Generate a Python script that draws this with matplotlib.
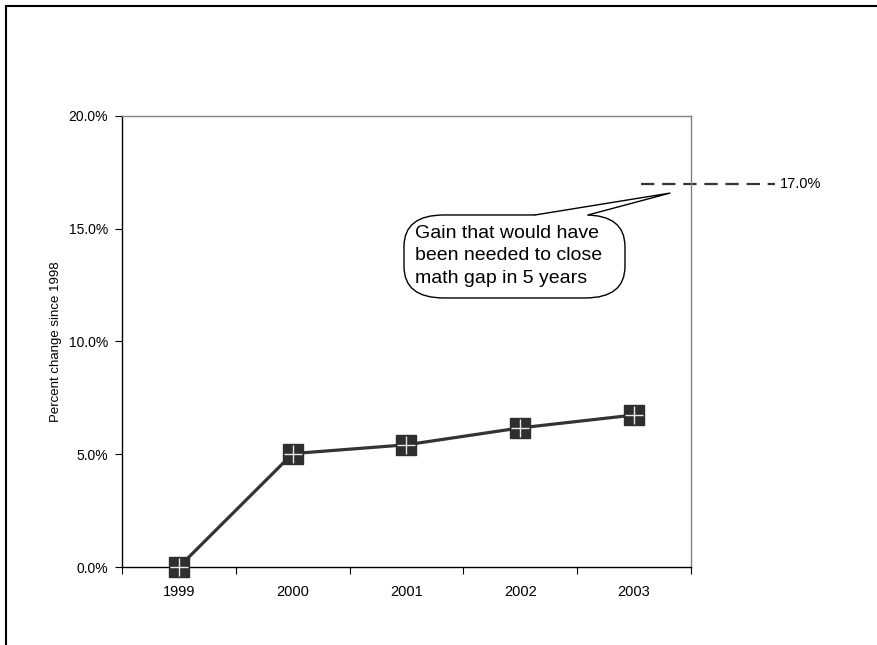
import matplotlib
matplotlib.use("Agg")
import matplotlib.pyplot as plt
from matplotlib.patches import FancyBboxPatch, Polygon, Rectangle
from matplotlib.ticker import FuncFormatter
import numpy as np

plt.rcParams['font.family'] = ['Liberation Sans', 'DejaVu Sans']

# data
years = ['1999', '2000', '2001', '2002', '2003']
pct_change = [0.0, 5.03, 5.42, 6.17, 6.74]
target_gain = 17.0
callout_text = "Gain that would have\nbeen needed to close\nmath gap in 5 years"

fig = plt.figure(figsize=(8.77, 6.45), dpi=100)
ax = fig.add_axes([0.1391, 0.1209, 0.6488, 0.6993])

x = np.arange(len(years))
ax.plot(x, pct_change, color='#333333', lw=2.3, zorder=3)
ax.plot(x, pct_change, ls='none', marker='s', ms=14, mfc='#2e2e2e', mec='#2e2e2e',
        zorder=4, clip_on=False)
ax.plot(x, pct_change, ls='none', marker='+', ms=13, mew=1.0, color='#e8e8e8',
        zorder=5, clip_on=False)

# target dashed line, runs past the plot area
ax.plot([4.06, 5.24], [target_gain, target_gain], ls=(0, (6, 3.5)), color='#333333',
        lw=1.6, clip_on=False)
ax.text(5.28, target_gain, f"{target_gain:.1f}%", fontsize=10.5, va='center', ha='left')

ax.set_xlim(-0.5, len(years) - 0.5)
ax.set_ylim(0, 20)
ax.set_xticks(x)
ax.set_xticklabels(years, fontsize=10.5)
ax.set_xticks(np.arange(-0.5, len(years)), minor=True)
ax.tick_params(axis='x', which='major', length=0, pad=13)
ax.tick_params(axis='x', which='minor', length=5, direction='out', width=0.8)
ax.set_yticks([0, 5, 10, 15, 20])
ax.yaxis.set_major_formatter(FuncFormatter(lambda v, p: f"{v:.1f}%"))
ax.tick_params(axis='y', length=5, direction='out', width=0.8, labelsize=10, pad=5)
ax.set_ylabel("Percent change since 1998", fontsize=9.5, labelpad=5)

for s in ['left', 'bottom']:
    ax.spines[s].set_color('black')
    ax.spines[s].set_linewidth(1.0)
for s in ['top', 'right']:
    ax.spines[s].set_color('#808080')
    ax.spines[s].set_linewidth(1.0)

# callout box with pointer
bx0, by0, bx1, by1 = 0.4956, 0.5965, 0.884, 0.7805
box = FancyBboxPatch((bx0, by0), bx1 - bx0, by1 - by0,
                     boxstyle="round,pad=0,rounding_size=0.07",
                     transform=ax.transAxes, fc='white', ec='black', lw=1.0, zorder=6)
ax.add_patch(box)
base_l, base_r, tip = (0.7258, by1), (0.819, by1), (0.963, 0.829)
ax.add_patch(Polygon([(base_l[0], by1 - 0.004), base_l, tip, base_r, (base_r[0], by1 - 0.004)],
                     closed=True, transform=ax.transAxes, fc='white', ec='none', zorder=7))
ax.plot([base_l[0], tip[0], base_r[0]], [base_l[1], tip[1], base_r[1]],
        color='black', lw=1.0, transform=ax.transAxes, zorder=8, clip_on=False)
ax.text(bx0 + 0.02, by1 - 0.022, callout_text, transform=ax.transAxes,
        fontsize=14, va='top', ha='left', linespacing=1.42, zorder=9)

# outer frame of the chart object
fig.patches.append(Rectangle((0.0068, -0.1), 1.2, 0.9907 + 0.1, transform=fig.transFigure,
                             fill=False, ec='black', lw=1.5, figure=fig))

fig.savefig("out.png", dpi=100)
